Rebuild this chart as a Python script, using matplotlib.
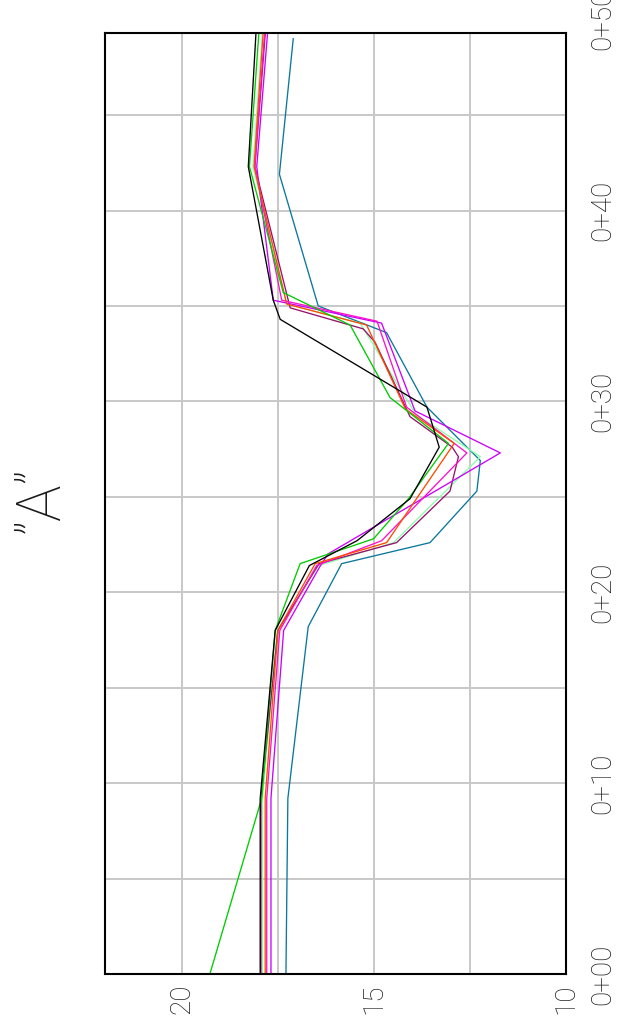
import matplotlib
matplotlib.use("Agg")
import matplotlib.pyplot as plt
from matplotlib.transforms import offset_copy

plt.rcParams['font.family'] = ['Roboto', 'DejaVu Sans']
plt.rcParams['font.weight'] = 'light'

# station (m) / elevation (m) for each surveyed cross-section
black_s = [0, 9.2, 18.0, 21.4, 22.7, 24.9, 27.6, 29.7, 34.3, 35.3, 42.3, 50]
black_e = [17.96, 17.96, 17.57, 16.68, 15.44, 14.06, 13.30, 13.62, 17.44, 17.62, 18.27, 18.05]

green_s = [0, 9.2, 18.0, 21.5, 22.8, 24.9, 27.8, 30.2, 34.0, 35.7, 42.3, 50]
green_e = [19.27, 17.92, 17.57, 16.92, 15.01, 14.10, 13.06, 14.58, 15.62, 17.36, 18.24, 17.97]

orange_s = [0, 9.2, 18.0, 21.5, 22.6, 27.8, 29.6, 34.0, 35.1, 42.3, 50]
orange_e = [17.83, 17.83, 17.50, 16.53, 14.67, 12.91, 14.18, 15.19, 17.27, 18.12, 17.86]

magenta_s = [0, 9.2, 18.0, 21.4, 22.7, 27.3, 29.7, 34.2, 35.3, 42.3, 50]
magenta_e = [17.79, 17.79, 17.45, 16.49, 14.80, 12.58, 14.15, 14.92, 17.40, 18.10, 17.82]

violet_s = [0, 9.2, 18.0, 21.3, 22.0, 27.3, 29.5, 34.1, 35.3, 42.3, 50]
violet_e = [17.68, 17.68, 17.35, 16.42, 16.20, 11.71, 13.93, 14.80, 17.62, 18.05, 17.74]

purple_s = [0, 9.2, 18.0, 21.5, 22.6, 25.3, 27.1, 27.6, 29.2, 33.1, 33.8, 34.9, 42.3, 50]
purple_e = [17.94, 17.94, 17.50, 16.43, 14.41, 13.02, 12.80, 12.96, 14.06, 14.97, 15.28, 17.18, 18.10, 17.80]

lgreen_s = [0, 9.2, 18.0, 21.4, 22.6, 27.1, 29.3, 34.1, 35.1, 42.3, 50]
lgreen_e = [17.90, 17.90, 17.52, 16.44, 14.49, 12.23, 13.90, 15.36, 17.27, 18.15, 17.88]

teal_s = [0, 9.2, 18.2, 21.5, 22.6, 25.3, 26.9, 29.7, 33.6, 35.0, 41.9, 49.0]
teal_e = [17.29, 17.24, 16.71, 15.84, 13.54, 12.32, 12.23, 13.62, 14.67, 16.45, 17.46, 17.10]

station_ticks = [0, 10, 20, 30, 40, 50]
station_labels = ['0+00', '0+10', '0+20', '0+30', '0+40', '0+50']
elev_ticks = [10, 15, 20]

series = [
    (teal_s, teal_e, '#0a779c'),
    (lgreen_s, lgreen_e, '#88ffa8'),
    (purple_s, purple_e, '#99106f'),
    (violet_s, violet_e, '#cc00ff'),
    (magenta_s, magenta_e, '#ff10c8'),
    (orange_s, orange_e, '#ff4a00'),
    (green_s, green_e, '#00cc00'),
    (black_s, black_e, '#000000'),
]

fig = plt.figure(figsize=(6.24, 10.29), dpi=100)
ax = fig.add_axes([105 / 624, 1 - 974 / 1029, 461 / 624, 941 / 1029])

# chart is drawn turned on its side: elevation across, station up
for s, e, c in series:
    ax.plot(e, s, color=c, lw=0.95)

ax.set_xlim(22, 10)
ax.set_ylim(0, 49.3)

ax.set_xticks(elev_ticks)
ax.set_xticks([12.5, 17.5], minor=True)
ax.set_xticklabels([str(t) for t in elev_ticks], rotation=90)
ax.set_yticks(range(0, 50, 5))
ax.set_yticklabels([station_labels[station_ticks.index(t)] if t in station_ticks else ''
                    for t in range(0, 50, 5)], rotation=90, va='center')
ax.yaxis.tick_right()

ax.tick_params(axis='both', which='both', length=0)
ax.tick_params(axis='x', labelsize=20, pad=7, colors='#1a1a1a')
ax.tick_params(axis='y', labelsize=20, pad=17, colors='#1a1a1a')
ax.grid(True, which='both', color='#c8c8c8', lw=1.4)
ax.set_axisbelow(True)
for sp in ax.spines.values():
    sp.set_color('black')
    sp.set_linewidth(1.5)

# last station label sits beyond the plotted range
trans = offset_copy(ax.get_yaxis_transform(), fig=fig, x=17, y=0, units='points')
ax.text(1.0, station_ticks[-1], station_labels[-1], transform=trans, rotation=90,
        ha='left', va='center', fontsize=20, color='#1a1a1a', clip_on=False)

fig.text(42 / 624, 1 - 500 / 1029, '\u201dA\u201d', rotation=90, ha='center', va='center',
         fontsize=44, color='#1a1a1a')

fig.savefig('out.png', dpi=100)
